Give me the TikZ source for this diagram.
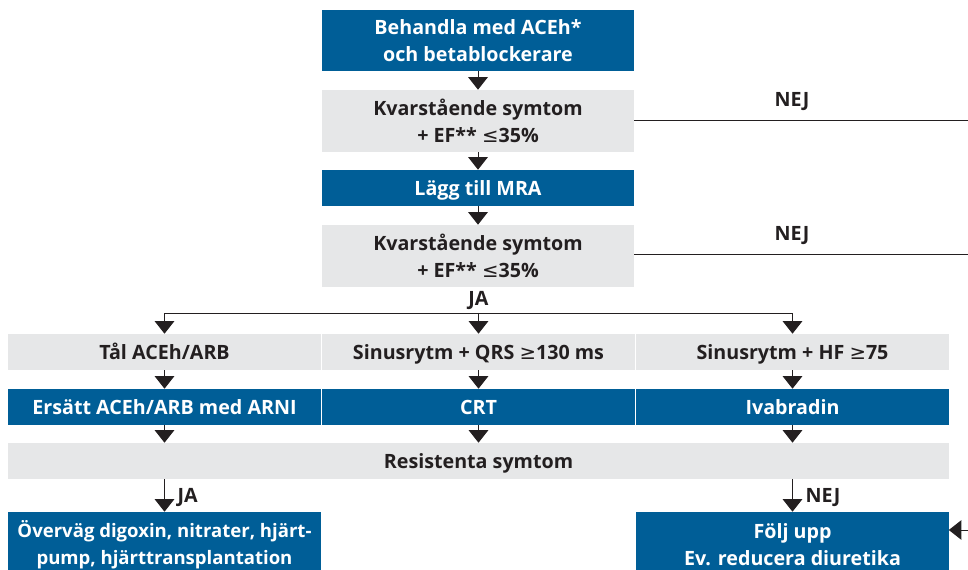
\documentclass[tikz,border=0pt]{standalone}
\usepackage{fontspec}
\setmainfont{Open Sans}
\newfontfamily\symfont{DejaVu Sans}
\usetikzlibrary{arrows.meta}
\definecolor{boxblue}{HTML}{005E97}
\definecolor{boxgray}{HTML}{E6E7E8}
\definecolor{ink}{HTML}{231F20}
\newcommand{\lesseq}{{\symfont\mdseries ≤}}
\newcommand{\greatereq}{{\symfont\mdseries ≥}}
\tikzstyle{bluebox} = [rectangle, fill=boxblue, text=white, align=center, minimum width=7.8cm, inner sep=0pt]
\tikzstyle{graybox} = [rectangle, fill=boxgray, text=ink, align=center, minimum width=7.8cm, inner sep=0pt]
\tikzstyle{oneline} = [minimum height=0.9cm, text height=12pt, text depth=2pt]
\tikzstyle{answer} = [text=ink, inner sep=1pt, text height=12pt, text depth=2pt]
\tikzstyle{flow} = [draw=ink, line width=0.7pt, -{Triangle[width=14pt,length=9pt]}]

\begin{document}
\begin{tikzpicture}[x=0.025cm, y=-0.025cm, font=\bfseries\fontsize{14}{19.2}\selectfont]
    \clip (0,0) rectangle (968,570);
    \node at (478,40.5) [bluebox, minimum height=1.525cm] (start) {Behandla med ACEh*\\och betablockerare};
    \node at (478,121) [graybox, minimum height=1.55cm] (check1) {Kvarstående symtom\\+ EF** \lesseq35\%};
    \node at (478,188) [bluebox, oneline] (mra) {Lägg till MRA};
    \node at (478,256) [graybox, minimum height=1.55cm] (check2) {Kvarstående symtom\\+ EF** \lesseq35\%};
    \node at (792,99) [answer] (nej1) {NEJ};
    \node at (792,233) [answer] (nej2) {NEJ};
    \node at (478.5,298) [answer] (ja1) {JA};
    \coordinate (split) at (478.5,313);
    \coordinate (rim1) at (990,120);
    \coordinate (rim2) at (990,254);
    \coordinate (rim3) at (990,530);

    \node at (164.5,352) [graybox, oneline] (tal) {Tål ACEh/ARB};
    \node at (478.5,352) [graybox, oneline] (qrs) {Sinusrytm + QRS \greatereq130 ms};
    \node at (792.5,352) [graybox, oneline] (hf) {Sinusrytm + HF \greatereq75};
    \node at (164.5,407) [bluebox, oneline] (arni) {Ersätt ACEh/ARB med ARNI};
    \node at (478.5,407) [bluebox, oneline] (crt) {CRT};
    \node at (792.5,407) [bluebox, oneline] (ivab) {Ivabradin};
    \node at (478.5,461) [graybox, oneline, minimum width=23.525cm] (resist) {Resistenta symtom};
    \node at (164.5,545) [bluebox, minimum height=1.65cm, font=\bfseries\fontsize{13.2}{19.2}\selectfont] (digox) {Överväg digoxin, nitrater, hjärt-\\pump, hjärttransplantation};
    \node at (792.5,545) [bluebox, minimum height=1.65cm] (follow) {Följ upp\\Ev. reducera diuretika};

    \draw[flow] (start) -- (check1);
    \draw[flow] (check1) -- (mra);
    \draw[flow] (mra) -- (check2);
    \draw[draw=ink, line width=0.7pt] (check1.east |- rim1) -- (rim1);
    \draw[draw=ink, line width=0.7pt] (check2.east |- rim2) -- (rim2);
    \draw[flow] (split) -| (tal);
    \draw[flow] (split) -| (hf);
    \draw[flow] (split) -- (qrs);
    \draw[flow] (tal) -- (arni);
    \draw[flow] (qrs) -- (crt);
    \draw[flow] (hf) -- (ivab);
    \draw[flow] (arni) -- (arni |- resist.north);
    \draw[flow] (crt) -- (resist);
    \draw[flow] (ivab) -- (ivab |- resist.north);
    \draw[flow] (resist.south -| digox) -- (digox) node[midway, right=8pt, answer] {JA};
    \draw[flow] (resist.south -| follow) -- (follow) node[midway, right=8pt, answer] {NEJ};
    \draw[flow] (rim3) -- (follow.east |- rim3);
\end{tikzpicture}
\end{document}
